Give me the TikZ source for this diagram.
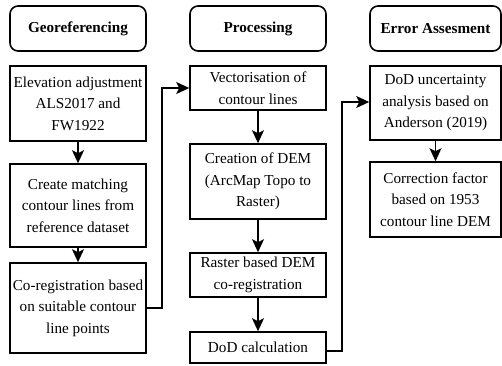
\documentclass[tikz,border=0pt]{standalone}
\usepackage{fontspec}
\setmainfont{Liberation Serif}
\usetikzlibrary{arrows.meta}
\begin{document}
\begin{tikzpicture}[x=1pt,y=-1pt,
  box/.style={draw=black, line width=1.6pt, inner sep=0pt, align=center,
    font=\fontsize{15.2}{21.5}\selectfont, minimum width=136pt},
  hdr/.style={box, rounded corners=8pt, minimum height=45pt,
    font=\fontsize{15.2}{18}\selectfont\bfseries},
  arr/.style={line width=1.6pt, -{Stealth[length=13pt,width=12pt,inset=3pt]}},
  conn/.style={line width=1.6pt, -{Stealth[length=13pt,width=12pt,inset=3pt]}}]
\useasboundingbox (0,0) rectangle (502,365);
% headers
\node[hdr] (h1) at (78,28.5) {Georeferencing};
\node[hdr] (h2) at (258,28.5) {Processing};
\node[hdr, minimum width=131pt] (h3) at (435.5,28.5) {Error Assesment};
% georeferencing
\node[box, minimum height=75pt] (g1) at (78,103.5) {Elevation adjustment\\ALS2017 and\\FW1922};
\node[box, minimum height=83pt] (g2) at (78,205.5) {Create matching\\contour lines from\\reference dataset};
\node[box, minimum height=90pt] (g3) at (78,308) {Co-registration based\\on suitable contour\\line points};
% processing
\node[box, minimum height=44pt] (p1) at (258,88) {Vectorisation of\\contour lines};
\node[box, minimum height=75pt] (p2) at (258,181.5) {Creation of DEM\\(ArcMap Topo to\\Raster)};
\node[box, minimum height=44pt] (p3) at (258,275) {Raster based DEM\\co-registration};
\node[box, minimum height=31pt] (p4) at (258,347.5) {DoD calculation};
% error
\node[box, minimum width=131pt, minimum height=74pt] (e1) at (435.5,103) {DoD uncertainty\\analysis based on\\Anderson (2019)};
\node[box, minimum width=131pt, minimum height=75pt] (e2) at (435.5,199.5) {Correction factor\\based on 1953\\contour line DEM};
% arrows
\draw[arr] (g1) -- (g2);
\draw[arr] (g2) -- (g3);
\draw[arr] (p1) -- (p2);
\draw[arr] (p2) -- (p3);
\draw[arr] (p3) -- (p4);
\draw[arr] (e1) -- (e2);
\draw[conn] (g3.east) -- ++(15,0) |- (p1.west);
\draw[conn] ([yshift=-3.5pt]p4.east) -- ++(15,0) |- ([yshift=1pt]e1.west);
\end{tikzpicture}
\end{document}
